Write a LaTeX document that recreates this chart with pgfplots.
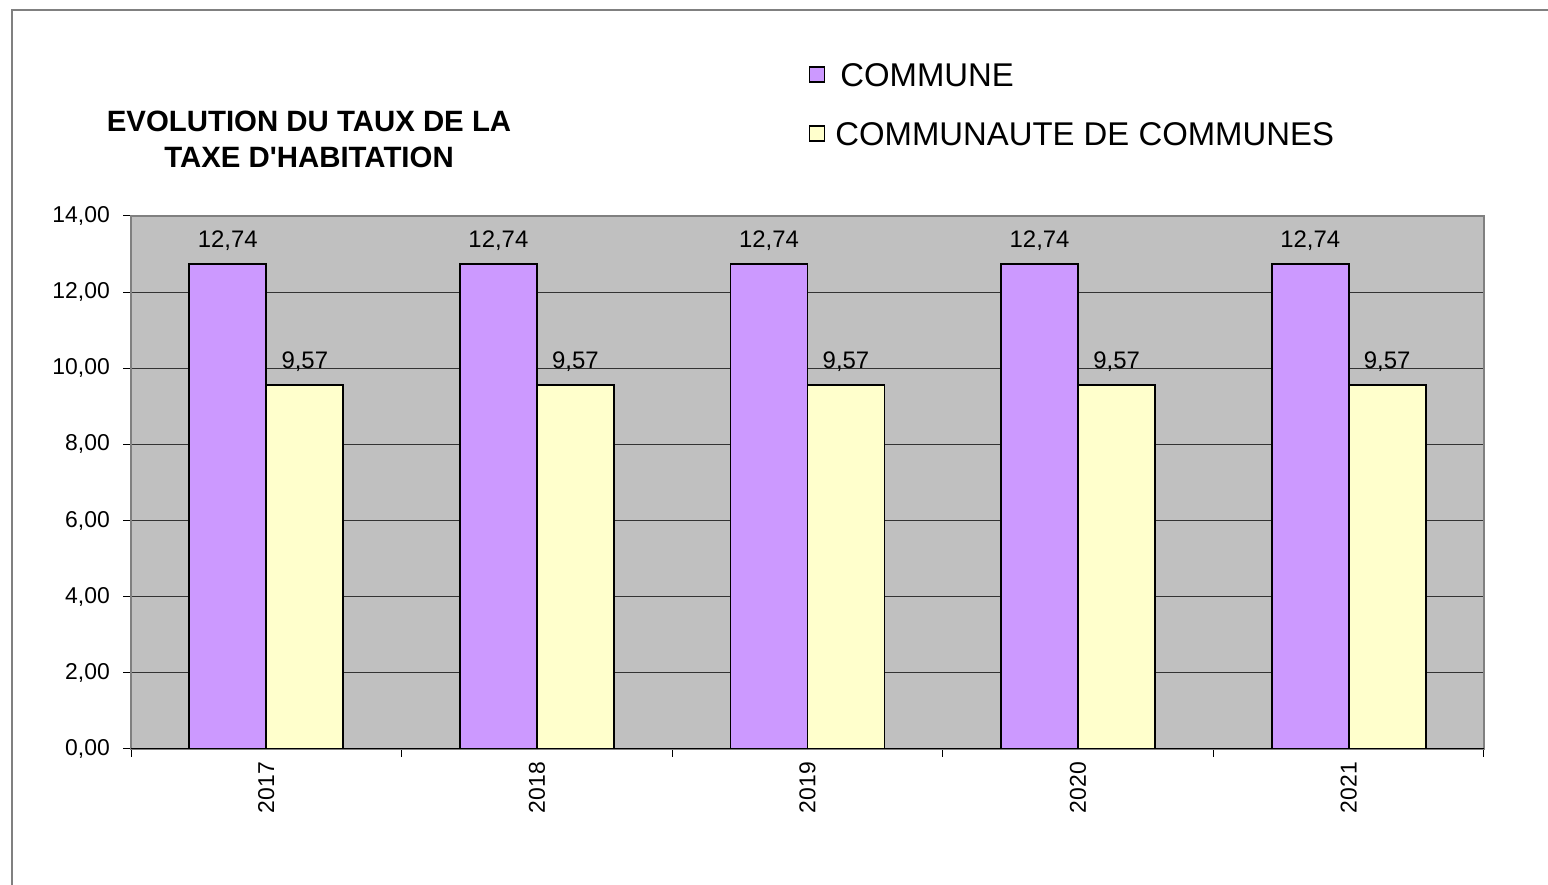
\documentclass[border=0pt]{standalone}
\usepackage{pgfplots}
\pgfplotsset{compat=1.18}
\usepackage{fontspec}
\setmainfont{Liberation Sans}

\definecolor{commune}{HTML}{CC99FF}
\definecolor{cdc}{HTML}{FFFFCC}
\definecolor{plotbg}{HTML}{C0C0C0}
\definecolor{cadre}{HTML}{808080}

% taux de la taxe d'habitation
\pgfplotstableread{
x commune cdc
0 12.74 9.57
1 12.74 9.57
2 12.74 9.57
3 12.74 9.57
4 12.74 9.57
}\taux

\begin{document}
\begin{tikzpicture}[x=1bp,y=1bp]
\useasboundingbox (0,0) rectangle (1548,884);
\fill[white] (0,0) rectangle (1548,884);
\draw[cadre, line width=2bp] (12,-5) -- (12,874) -- (1560,874);
\node[align=center, font=\bfseries\fontsize{29.5}{36}\selectfont] at (309,745)
  {EVOLUTION DU TAUX DE LA\\TAXE D\textquotesingle HABITATION};
\begin{axis}[
  at={(131bp,135bp)}, anchor=south west,
  width=1353bp, height=533bp, scale only axis,
  xmin=-0.5, xmax=4.5, ymin=0, ymax=14,
  ybar=0pt, bar width=77bp,
  axis background/.style={fill=plotbg},
  axis line style={cadre, line width=2bp},
  ytick={0,2,...,14},
  ymajorgrids, major grid style={black!80, line width=1bp},
  xtick={-0.5,0.5,...,4.5}, xticklabels={},
  extra x ticks={0,1,2,3,4},
  extra x tick labels={2017,2018,2019,2020,2021},
  extra x tick style={major tick length=0pt},
  xticklabel style={rotate=90, anchor=east, inner sep=0pt, xshift=-13bp},
  yticklabel style={inner sep=0pt, xshift=-13bp},
  tick align=outside, major tick length=8bp,
  tick style={black, line width=1bp},
  xtick pos=bottom, ytick pos=left,
  tick label style={font=\fontsize{23}{27}\selectfont},
  /pgf/number format/.cd, fixed, fixed zerofill, precision=2, use comma,
  assume math mode=true, /pgfplots/.cd,
  nodes near coords,
  every node near coord/.append style={font=\fontsize{24}{28}\selectfont,
    anchor=south, inner sep=0pt, yshift=12bp, black},
  legend style={at={(0.501,1.288)}, anchor=north west, draw=none, fill=none,
    inner sep=0pt, outer sep=0pt, row sep=28bp, column sep=0pt,
    font=\fontsize{33}{38}\selectfont,
    nodes={inner sep=0pt, text height=24bp, text depth=7bp}},
  legend cell align=left,
  legend image code/.code={\draw[#1, draw=black, line width=1.5bp] (0bp,-4bp) rectangle (15bp,11bp);},
]
\addplot[fill=commune, draw=black, line width=1.8bp] table[x=x, y=commune] {\taux};
\addplot[fill=cdc, draw=black, line width=1.8bp] table[x=x, y=cdc] {\taux};
\legend{\hspace{15bp}COMMUNE, \hspace{10bp}COMMUNAUTE DE COMMUNES}
\draw[black, line width=1.5bp] (rel axis cs:0,0) -- (rel axis cs:1,0);
\end{axis}
\end{tikzpicture}
\end{document}
